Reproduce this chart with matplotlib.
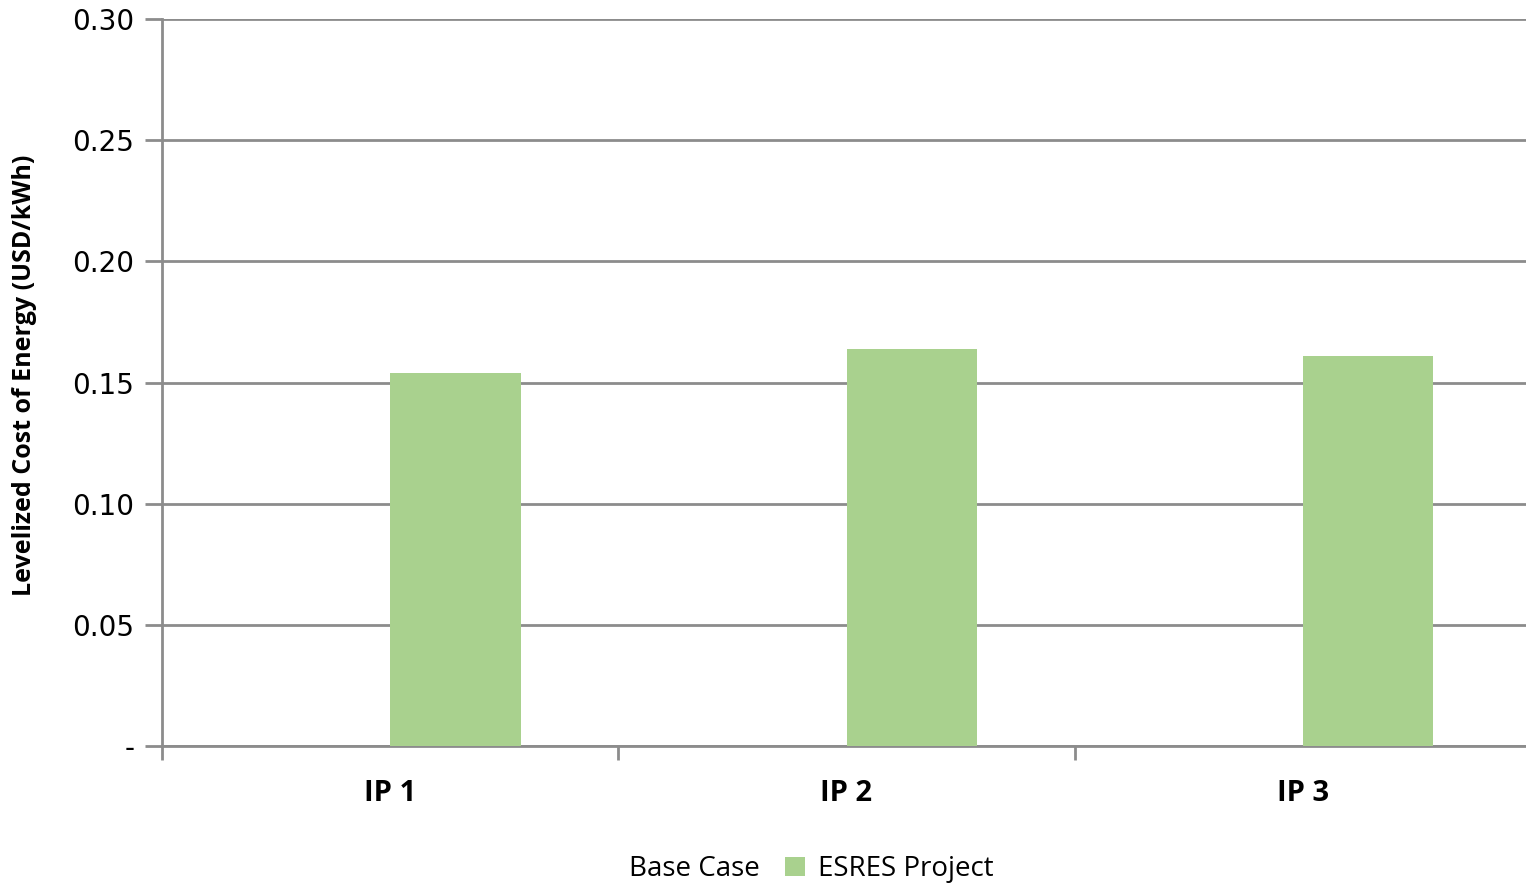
import numpy as np
import matplotlib.pyplot as plt
from matplotlib.patches import Patch

# data
categories = ['IP 1', 'IP 2', 'IP 3']
base_case = [0.0, 0.0, 0.0]
esres_project = [0.154, 0.164, 0.161]
yticks = [0.0, 0.05, 0.10, 0.15, 0.20, 0.25, 0.30]
ytick_labels = ['-', '0.05', '0.10', '0.15', '0.20', '0.25', '0.30']

green = '#a9d18e'
grid_col = '#8c8c8c'

fig = plt.figure(figsize=(15.26, 8.84), dpi=100)
ax = fig.add_axes([162 / 1526, 1 - 746 / 884, 1369 / 1526, 727 / 884])

x = np.arange(len(categories)) + 0.5
w = 1 / 3.5
ax.bar(x - w / 2, base_case, w, color='white', zorder=3)
ax.bar(x + w / 2, esres_project, w, color=green, zorder=3)

ax.set_xlim(0, 3)
ax.set_ylim(0, 0.30)
ax.set_yticks(yticks)
ax.set_yticklabels(ytick_labels, fontsize=20, family='DejaVu Sans')
ax.yaxis.grid(True, color=grid_col, linewidth=2)
ax.set_axisbelow(True)

# category boundaries as ticks, labels at centres
ax.set_xticks([0, 1, 2, 3])
ax.set_xticklabels([])
ax.set_xticks(x, minor=True)
ax.set_xticklabels(categories, minor=True, fontsize=21, fontweight='bold', family='Open Sans')
ax.tick_params(axis='x', which='minor', length=0, pad=24)
ax.tick_params(axis='x', which='major', length=10, width=2, color=grid_col)
ax.tick_params(axis='y', length=12, width=2, color=grid_col, pad=8)

for s in ['top', 'right']:
    ax.spines[s].set_visible(False)
ax.spines['left'].set_color(grid_col)
ax.spines['left'].set_linewidth(2)
ax.spines['bottom'].set_color(grid_col)
ax.spines['bottom'].set_linewidth(2)

fig.text(25 / 1526, 1 - 375 / 884, 'Levelized Cost of Energy (USD/kWh)', rotation=90,
         ha='center', va='center', fontsize=18, fontweight='bold', family='Open Sans')

handles = [Patch(facecolor='white', edgecolor='none'), Patch(facecolor=green, edgecolor='none')]
fig.legend(handles, ['Base Case', 'ESRES Project'], loc='center', ncol=2,
           bbox_to_anchor=(795 / 1526, 1 - 869 / 884), frameon=False,
           prop={'family': 'Open Sans', 'size': 20}, handlelength=0.7, handleheight=0.7,
           handletextpad=0.5, columnspacing=0.9, borderaxespad=0, borderpad=0)

fig.savefig('out.png', dpi=100)
